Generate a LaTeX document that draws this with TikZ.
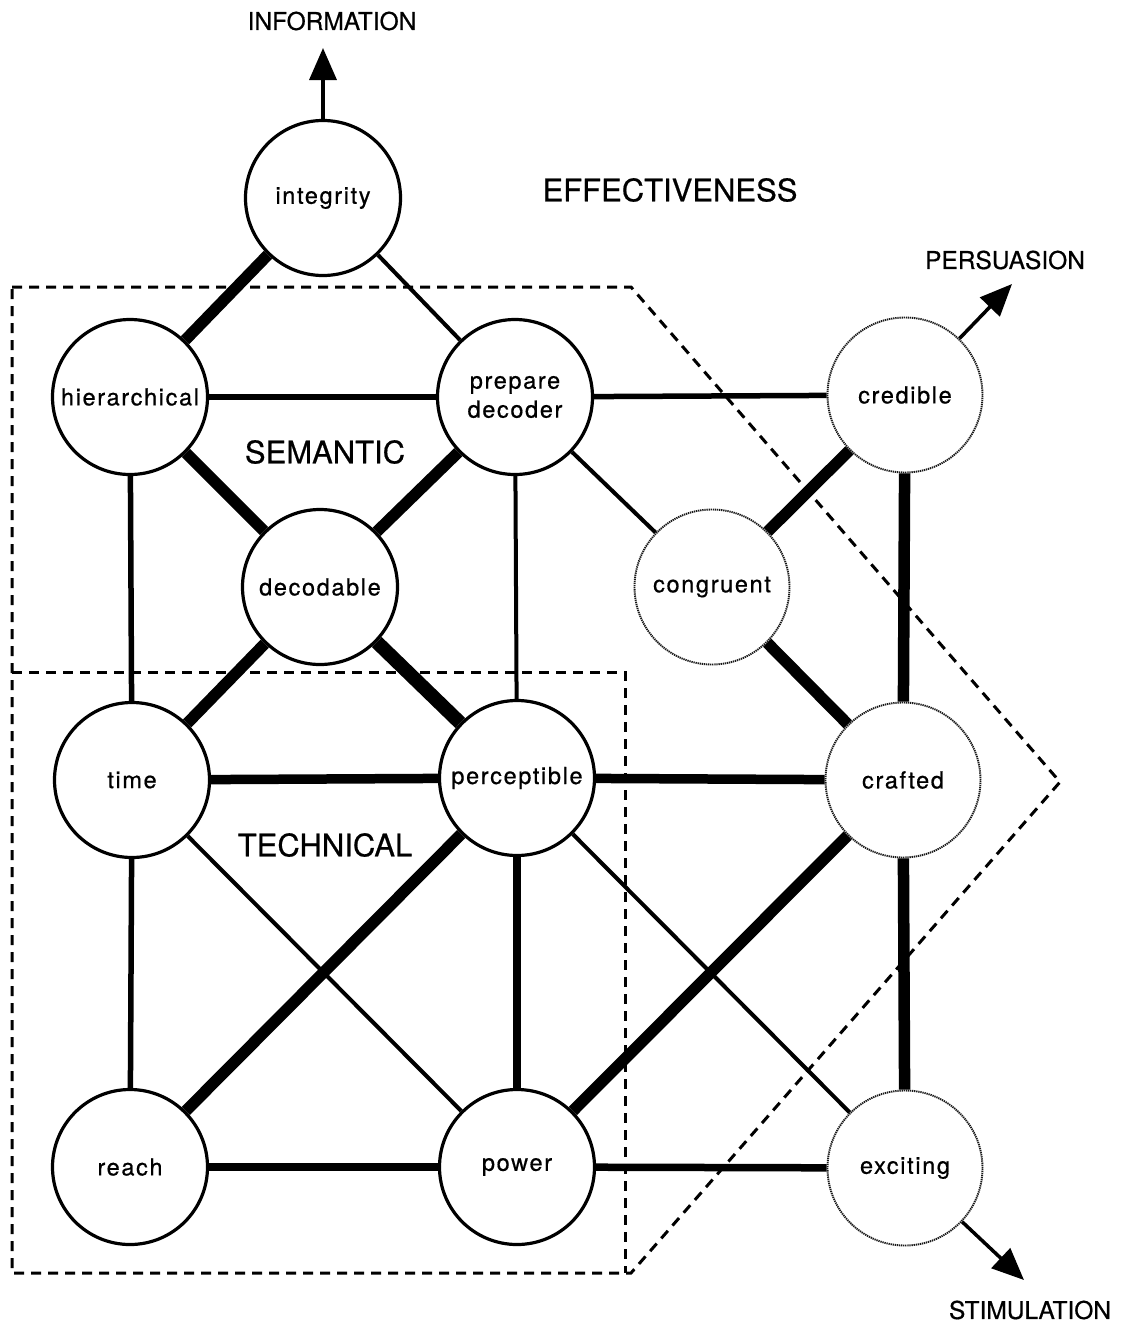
\documentclass[tikz,border=0pt]{standalone}
\usepackage{fontspec}
\setmainfont{TeX Gyre Heros}
\newfontfamily\inkfont[FakeBold=0.6]{TeX Gyre Heros}
\usetikzlibrary{arrows.meta}
\begin{document}
\begin{tikzpicture}[x=1pt,y=-1pt,
  concept/.style={circle, draw, line width=3.2pt, fill=white, minimum size=155pt,
    inner sep=0pt, align=center,
    font=\inkfont\fontsize{23.5}{29}\selectfont\addfontfeature{LetterSpace=7}},
  soft/.style={concept, draw=black!90, line width=1.9pt, dash pattern=on 1.3pt off 0.8pt},
  region/.style={draw, line width=3pt, dash pattern=on 10pt off 7pt},
  biglabel/.style={font=\inkfont\fontsize{31}{33}\selectfont, inner sep=0pt},
  label/.style={font=\inkfont\fontsize{24.5}{26}\selectfont, inner sep=0pt},
  outward/.style={line width=3.5pt, -{Triangle[length=32pt,width=27pt]}},
  w1/.style={line width=4pt},
  w2/.style={line width=5.5pt},
  w3/.style={line width=7.5pt},
  w4/.style={line width=9.5pt},
  w5/.style={line width=11.5pt},
  w6/.style={line width=14pt}]
\useasboundingbox (0,0) rectangle (1120,1331);

% dashed regions: semantic hexagon and technical rectangle
\draw[region] (12,287) -- (631,287) -- (1060,782) -- (631,1273) -- (12,1273) -- cycle;
\draw[region] (12,672) -- (625,672) -- (625,1273);

% concepts
\node[concept] (integrity) at (323,198) {integrity};
\node[concept] (hier) at (130,397) {hierarchical};
\node[concept] (prep) at (515,397) {prepare\\decoder};
\node[soft] (cred) at (905,395) {credible};
\node[concept] (deco) at (320,587) {decodable};
\node[soft] (cong) at (712,587) {congruent};
\node[concept] (time) at (132,780) {time};
\node[concept] (perc) at (517,778) {perceptible};
\node[soft] (craf) at (903,780) {crafted};
\node[concept] (reach) at (130,1167) {reach};
\node[concept] (power) at (517,1167) {power};
\node[soft] (exci) at (905,1168) {exciting};

% links
\draw[w5] (integrity) -- (hier);
\draw[w1] (integrity) -- (prep);
\draw[w2] (hier) -- (prep);
\draw[w2] (prep) -- (cred);
\draw[w5] (hier) -- (deco);
\draw[w5] (prep) -- (deco);
\draw[w2] (hier) -- (time);
\draw[w1] (prep) -- (perc);
\draw[w1] (prep) -- (cong);
\draw[w5] (cred) -- (cong);
\draw[w5] (cred) -- (craf);
\draw[w5] (deco) -- (time);
\draw[w6] (deco) -- (perc);
\draw[w5] (cong) -- (craf);
\draw[w4] (time) -- (perc);
\draw[w4] (perc) -- (craf);
\draw[w2] (time) -- (reach);
\draw[w1] (time) -- (power);
\draw[w5] (perc) -- (reach);
\draw[w3] (perc) -- (power);
\draw[w1] (perc) -- (exci);
\draw[w5] (craf) -- (power);
\draw[w5] (craf) -- (exci);
\draw[w3] (reach) -- (power);
\draw[w3] (power) -- (exci);

% outcomes
\coordinate (infoTip) at (323,48);
\coordinate (persTip) at (1012,284);
\coordinate (stimTip) at (1024,1280);
\draw[outward] (integrity) -- (infoTip);
\draw[outward] (cred) -- (persTip);
\draw[outward] (exci) -- (stimTip);

\node[label] (info) at (332,21) {INFORMATION};
\node[label] (pers) at (1005,260) {PERSUASION};
\node[label] (stim) at (1030,1310) {STIMULATION};
\node[biglabel] (effect) at (670,190) {EFFECTIVENESS};
\node[biglabel] (sem) at (325,452) {SEMANTIC};
\node[biglabel] (tech) at (325,845) {TECHNICAL};
\end{tikzpicture}
\end{document}
